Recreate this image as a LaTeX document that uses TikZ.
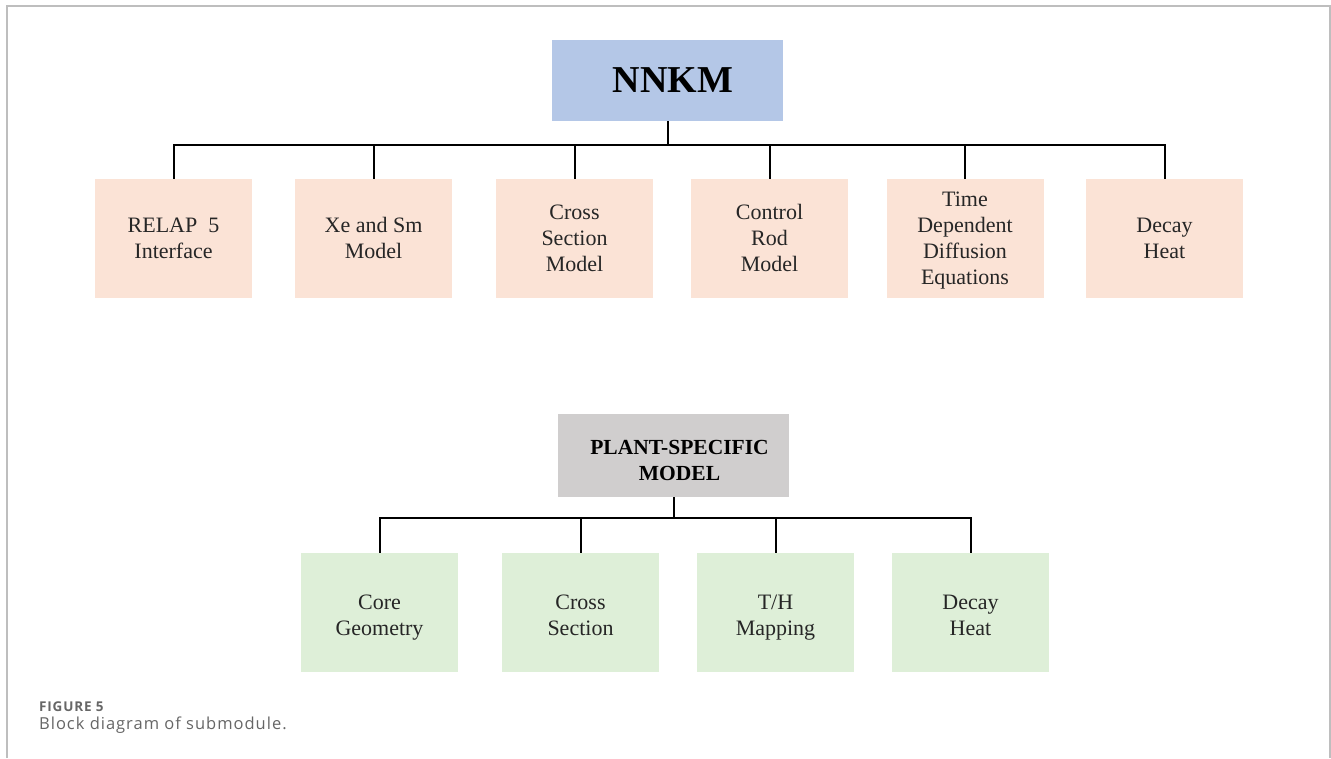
\documentclass[tikz,border=0pt]{standalone}
\usepackage{fontspec}
\setmainfont{Liberation Serif}
\newfontfamily\capfont[LetterSpace=6]{Open Sans}
\definecolor{topblue}{HTML}{B4C7E7}
\definecolor{peach}{HTML}{FBE3D6}
\definecolor{plantgray}{HTML}{D0CECE}
\definecolor{lgreen}{HTML}{DEEFD8}
\definecolor{framegray}{HTML}{BEBEBE}
\definecolor{capgray}{HTML}{666666}
\newcommand\boxlines[2][21pt]{\begin{tabular}{@{}c@{}}\rule{0pt}{#1}#2\end{tabular}}
\tikzset{
  x=1pt, y=-1pt,
  subbox/.style={minimum width=157pt, minimum height=119pt, inner sep=0pt,
    font=\fontsize{22}{26}\selectfont, text=black!85},
  peachbox/.style={subbox, fill=peach},
  greenbox/.style={subbox, fill=lgreen},
  conn/.style={draw=black, line width=2pt},
}
\begin{document}
\begin{tikzpicture}
\useasboundingbox (0,0) rectangle (1331,758);
% frame
\draw[framegray, line width=1.5pt] (7,758) -- (7,6) -- (1330,6) -- (1330,758);
% top title
\node[fill=topblue, minimum width=231pt, minimum height=81pt, inner sep=0pt,
  font=\fontsize{38}{40}\selectfont\bfseries] (nnkm) at (667.5,80.5) {\hspace*{11pt}NNKM};
% first row
\node[peachbox] (relap) at (173.5,238.5) {\boxlines{RELAP\ \ 5\\Interface}};
\node[peachbox] (xe) at (373.5,238.5) {\boxlines{Xe and Sm\\Model}};
\node[peachbox] (cross) at (574.5,238.5) {\boxlines{Cross\\Section\\Model}};
\node[peachbox] (rod) at (769.5,238.5) {\boxlines{Control\\Rod\\Model}};
\node[peachbox] (tdde) at (965,238.5) {\boxlines{Time\\Dependent\\Diffusion\\Equations}};
\node[peachbox] (decay) at (1164.5,238.5) {\boxlines{Decay\\Heat}};
\coordinate (busA) at (668,145);
\draw[conn] (nnkm.south) -- (nnkm.south |- busA);
\draw[conn] (relap.north) -- (relap.north |- busA) -- (decay.north |- busA) -- (decay.north);
\foreach \n in {xe,cross,rod,tdde}{
  \draw[conn] (\n.north) -- (\n.north |- busA);
}
% plant-specific
\node[fill=plantgray, minimum width=231pt, minimum height=83pt, inner sep=0pt,
  font=\fontsize{21.5}{26}\selectfont\bfseries] (plant) at (673.5,455.5)
  {\hspace*{12pt}\boxlines[31pt]{PLANT-SPECIFIC\\MODEL}};
\node[greenbox] (core) at (379.5,612.5) {\boxlines[27pt]{Core\\Geometry}};
\node[greenbox] (cs) at (580.5,612.5) {\boxlines[27pt]{Cross\\Section}};
\node[greenbox] (th) at (775.5,612.5) {\boxlines[27pt]{T/H\\Mapping}};
\node[greenbox] (dh) at (970.5,612.5) {\boxlines[27pt]{Decay\\Heat}};
\coordinate (busB) at (675,518);
\draw[conn] (plant.south) -- (plant.south |- busB);
\draw[conn] (core.north) -- (core.north |- busB) -- (dh.north |- busB) -- (dh.north);
\foreach \n in {cs,th}{
  \draw[conn] (\n.north) -- (\n.north |- busB);
}
% caption
\node[anchor=base west, inner sep=0pt, text=capgray, font=\capfont\fontsize{13.5}{15}\selectfont\bfseries] (figlabel) at (39,711) {FIGURE 5};
\node[anchor=base west, inner sep=0pt, text=capgray, font=\capfont\fontsize{16.5}{18}\selectfont] (figcap) at (39,729) {Block diagram of submodule.};
\end{tikzpicture}
\end{document}
